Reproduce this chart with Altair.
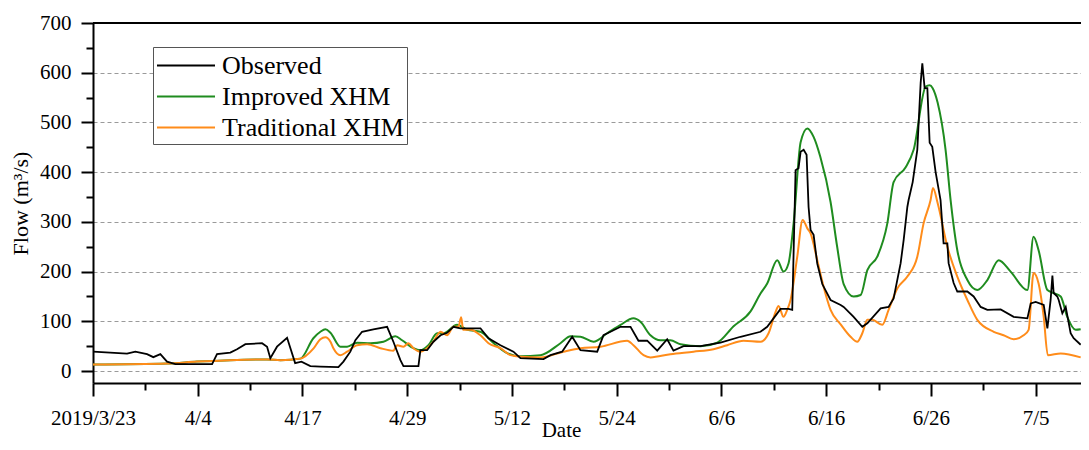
import json
import altair as alt
import pandas as pd

# ---- data (x = position index, 10 units per major tick) ----
tick_labels = ["2019/3/23", "4/4", "4/17", "4/29", "5/12", "5/24", "6/6", "6/16", "6/26", "7/5"]
series_names = ["Observed", "Improved XHM", "Traditional XHM"]
series_colors = ["#000000", "#1f8c1f", "#ff8c1a"]

obs_t = [0, 3.25, 4.04, 5.16, 5.76, 6.43, 7.07, 7.86, 11.37, 11.84, 13.11, 13.75, 14.55, 16.14, 16.62,
         16.93, 17.57, 18.53, 19.3, 19.9, 20.75, 21.71, 23.43, 23.91, 24.57, 25.05, 25.69, 26.77, 28.08,
         28.68, 29.35, 29.64, 31.07, 31.26, 31.9, 32.5, 33.18, 33.81, 34.41, 35.08, 36.99, 37.76, 38.9,
         40.14, 40.81, 43.01, 43.68, 44.79, 45.75, 46.54, 48.14, 48.74, 49.41, 50.37, 51.32, 52.08, 52.91,
         53.87, 54.82, 55.42, 56.38, 58.0, 59.91, 61.82, 63.73, 64.37, 65.33, 65.65, 66.41, 66.76, 67.08,
         67.36, 67.56, 67.85, 68.13, 68.32, 68.51, 68.8, 69.15, 69.63, 70.42, 71.38, 71.67, 72.62, 73.45,
         73.93, 75.2, 75.96, 76.44, 77.11, 77.4, 77.75, 77.87, 78.26, 78.7, 79.02, 79.18, 79.4, 79.66,
         79.88, 80.13, 80.45, 80.92, 81.21, 81.57, 81.69, 82.17, 82.52, 83.48, 84.08, 84.75, 85.39, 86.66,
         87.9, 89.21, 89.53, 90.0, 90.77, 91.12, 91.43, 91.6, 91.72, 92.07, 92.2, 92.55, 92.87, 93.34,
         93.63, 94.3]
obs_v = [39, 35, 39, 34, 28, 34, 19, 14, 14, 34, 37, 44, 54, 56, 49,
         26, 49, 67, 16, 19, 10, 9, 8, 19, 39, 62, 79, 84, 89,
         59, 22, 10, 10, 42, 42, 59, 72, 77, 89, 86, 86, 66, 52,
         39, 26, 24, 32, 39, 69, 42, 39, 72, 79, 89, 89, 61, 61,
         41, 64, 41, 50, 50, 57, 69, 79, 89, 116, 125, 125, 123, 404,
         408, 441, 445, 435, 330, 284, 274, 216, 175, 143, 133, 129, 109, 89,
         96, 126, 129, 146, 217, 264, 330, 344, 380, 445, 579, 619, 569, 569,
         459, 451, 400, 344, 257, 257, 217, 177, 160, 160, 150, 129, 123, 124,
         109, 106, 136, 139, 133, 86, 143, 192, 157, 150, 143, 116, 129, 76,
         66, 53]

imp_t = [0, 7.07, 9.93, 13.11, 16.62, 17.9, 19.8, 21.04, 21.71, 22.19, 22.67, 23.62, 24.26, 25.21,
         26.49, 27.73, 28.87, 29.51, 30.59, 31.26, 32.02, 32.86, 33.46, 34.77, 35.72, 36.99, 38.26,
         39.54, 40.81, 42.72, 44.63, 45.59, 46.54, 47.78, 49.09, 50.37, 51.6, 52.27, 53.22, 54.18,
         55.13, 56.09, 58.0, 59.6, 61.16, 62.78, 63.73, 64.37, 65.33, 65.93, 66.41, 66.89, 67.56,
         68.2, 68.8, 69.44, 70.42, 71.05, 71.67, 72.62, 73.29, 73.93, 74.88, 75.84, 76.44, 77.59,
         78.35, 79.5, 79.88, 80.17, 80.64, 81.4, 81.88, 82.52, 83.48, 84.43, 85.39, 86.47, 87.61,
         89.21, 89.8, 90.28, 91.12, 91.72, 92.39, 93.02, 93.82, 94.3]
imp_v = [13, 15, 19, 22, 23.5, 22, 25, 66, 79, 84, 77, 49, 49, 57,
         56, 59, 70, 62, 46, 42, 52, 76, 76, 93, 83, 79, 56,
         36, 30, 32, 56, 70, 69, 59, 76, 93, 106, 99, 72, 62,
         62, 54, 50, 57, 90, 120, 156, 176, 223, 200, 217, 297, 460,
         488, 471, 431, 340, 250, 175, 150, 153, 203, 230, 297, 380, 410,
         445, 572, 575, 569, 540, 445, 344, 243, 183, 163, 183, 223, 200,
         163, 270, 243, 163, 157, 150, 109, 83, 84]

trad_t = [0, 7.07, 9.93, 13.11, 16.62, 17.9, 19.8, 21.04, 21.71, 22.19, 22.67, 22.95, 23.62, 24.26,
          25.21, 26.17, 27.44, 28.68, 29.04, 29.64, 30.11, 30.59, 31.26, 31.9, 32.5, 33.18, 33.81,
          34.41, 34.89, 35.15, 35.34, 36.04, 36.99, 37.76, 38.9, 39.86, 40.81, 42.72, 44.92, 46.54,
          48.45, 51.0, 51.6, 52.56, 53.22, 55.13, 57.33, 59.24, 60.55, 62.11, 63.73, 64.5, 65.17,
          65.45, 65.93, 66.28, 66.6, 67.24, 67.75, 68.2, 68.51, 69.15, 69.75, 70.42, 71.38, 72.33,
          72.97, 73.45, 73.93, 74.4, 75.36, 75.96, 76.79, 77.75, 78.7, 79.3, 79.97, 80.2, 80.64,
          81.57, 82.52, 83.48, 84.43, 86.0, 86.94, 87.9, 88.85, 89.33, 89.8, 90.28, 90.77, 91.16,
          92.39, 94.3]
trad_v = [13, 15, 19, 22, 23.5, 22, 25, 45, 64, 68, 59, 46, 32, 39,
          52, 54, 46, 41, 52, 49, 56, 46, 39, 46, 59, 79, 72,
          89, 89, 108, 83, 83, 72, 56, 46, 32, 29, 27.5, 39, 46,
          49, 61, 52, 32, 27.5, 34, 39, 44, 52, 61, 59, 76, 119,
          131, 109, 123, 143, 230, 304, 287, 277, 223, 170, 123, 94, 69,
          59, 76, 103, 103, 93, 123, 166, 190, 230, 297, 344, 368, 338,
          250, 190, 143, 103, 79, 72, 64, 72, 83, 197, 176, 109, 32,
          35.5, 27.5]

y_ticks = list(range(0, 701, 50))
x_ticks = list(range(0, 91, 5))
frame_top = [700]

FONT = "Liberation Serif"


def frame(t, v, name):
    return pd.DataFrame({"t": t, "v": v, "series": name})


df_obs = frame(obs_t, obs_v, series_names[0])
df_imp = frame(imp_t, imp_v, series_names[1])
df_trad = frame(trad_t, trad_v, series_names[2])
df_top = pd.DataFrame({"v": frame_top})

label_expr = ("datum.value % 10 === 0 ? " + json.dumps(tick_labels) +
              "[round(datum.value / 10)] : ''")

x_axis = alt.Axis(
    values=x_ticks, labelExpr=label_expr, grid=False,
    tickSize={"condition": {"test": "datum.value % 10 === 0", "value": 13}, "value": 7},
    labelPadding=11, labelFontSize=21, labelFont=FONT, labelColor="black",
    title="Date", titleFont=FONT, titleFontSize=21, titleFontWeight="normal",
    titleColor="black", titleX=468, titleY=53, titleBaseline="alphabetic",
    labelOverlap=False, labelFlush=False,
)
y_axis = alt.Axis(
    values=y_ticks, labelExpr="datum.value % 100 === 0 ? datum.label : ''",
    tickSize={"condition": {"test": "datum.value % 100 === 0", "value": 12}, "value": 7},
    grid=True, gridDash=[4, 3], gridColor="#9a9a9a", gridWidth=1,
    gridOpacity={"condition": {"test": "datum.value % 100 === 0 && datum.value < 700", "value": 1}, "value": 0},
    labelPadding=10, labelFontSize=21, labelFont=FONT, labelColor="black",
    title="Flow (m³/s)", titleFont=FONT, titleFontSize=22, titleFontWeight="normal",
    titleColor="black", titlePadding=7, labelOverlap=False, labelFlush=False,
)

x_enc = alt.X("t:Q", scale=alt.Scale(domain=[0, 94.33], nice=False, zero=False), axis=x_axis)
y_enc = alt.Y("v:Q", scale=alt.Scale(domain=[-24, 700], nice=False, zero=False), axis=y_axis)
color_enc = alt.Color(
    "series:N",
    scale=alt.Scale(domain=series_names, range=series_colors),
    legend=alt.Legend(
        title=None, orient="none", legendX=60, legendY=24,
        symbolType="M-1,0H3", symbolSize=841, symbolStrokeWidth=2,
        labelFont=FONT, labelFontSize=26, labelColor="black", labelLimit=400,
        labelOffset=35, padding=3, rowPadding=2,
        strokeColor="#555555", fillColor="white",
    ),
)

top_rule = alt.Chart(df_top).mark_rule(color="black", strokeWidth=2).encode(y=y_enc)
imp_line = alt.Chart(df_imp).mark_line(strokeWidth=2, interpolate="monotone").encode(
    x=x_enc, y=y_enc, color=color_enc)
trad_line = alt.Chart(df_trad).mark_line(strokeWidth=2, interpolate="monotone").encode(
    x=x_enc, y=y_enc, color=color_enc)
obs_line = alt.Chart(df_obs).mark_line(strokeWidth=1.8).encode(
    x=x_enc, y=y_enc, color=color_enc)

chart = alt.layer(top_rule, imp_line, trad_line, obs_line).properties(
    width=988, height=360,
    autosize=alt.AutoSizeParams(type="none"),
    padding={"left": 85, "top": 15, "right": 0, "bottom": 59},
    background="white",
).configure_view(stroke=None).configure_axis(
    domainColor="black", domainWidth=2, tickColor="black", tickWidth=2,
)

chart.save("out.html", embed_options={"renderer": "svg", "actions": False})
